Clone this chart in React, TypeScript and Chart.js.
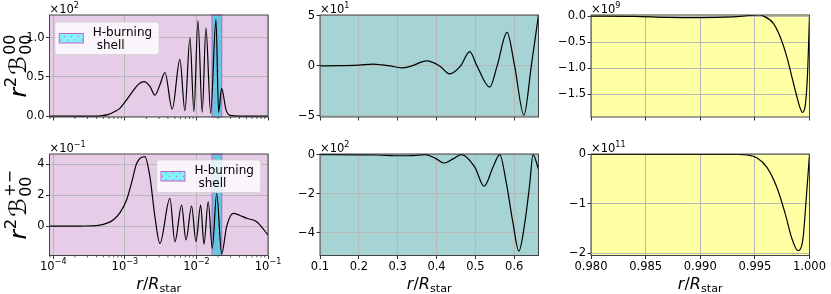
import React, { useEffect, useRef } from 'react';
import { Chart, registerables } from 'chart.js';

Chart.register(...registerables);

const W = 831;
const H = 294;
const FONT = '"DejaVu Sans", sans-serif';

// ---------------- data ----------------
const shellRange = [0.0165, 0.0226];

// top-left: r^2 B00^00 (x 1e-2 scale) vs r/R (log)
const p1R = [8e-5, 2e-4, 3.2e-4, 4.47e-4, 5.78e-4, 7.24e-4, 8.51e-4, 1.0e-3, 1.25e-3, 1.52e-3, 1.85e-3, 2.24e-3, 2.63e-3, 3.09e-3, 3.63e-3, 4.59e-3, 5.87e-3, 6.9e-3, 8.11e-3, 9.23e-3, 1.05e-2, 1.205e-2, 1.358e-2, 1.58e-2, 1.875e-2, 2.04e-2, 2.25e-2, 2.59e-2, 2.95e-2, 4.07e-2, 0.1];
const p1Y = [0, 0, 0.001, 0.005, 0.02, 0.06, 0.1, 0.18, 0.3, 0.4, 0.44, 0.38, 0.27, 0.4, 0.557, 0.09, 0.725, 0.07, 1.0, 0.06, 1.22, 0.05, 1.127, 0.04, 1.23, 0.05, 0.354, 0.08, 0.01, 0, 0];

// bottom-left: r^2 B00^{+-}
const p4R = [8e-5, 1.5e-4, 2.5e-4, 3.57e-4, 4.47e-4, 5.5e-4, 6.86e-4, 8.51e-4, 1.056e-3, 1.25e-3, 1.46e-3, 1.905e-3, 2.24e-3, 2.63e-3, 3.09e-3, 4.26e-3, 5.0e-3, 6.21e-3, 7.13e-3, 8.57e-3, 9.84e-3, 1.145e-2, 1.273e-2, 1.462e-2, 1.664e-2, 1.918e-2, 2.25e-2, 2.64e-2, 3.27e-2, 4.0e-2, 5.04e-2, 6.95e-2, 0.1];
const p4Y = [0, 0, 0.002, 0.01, 0.06, 0.17, 0.39, 0.85, 1.68, 2.85, 4.04, 4.48, 3.18, 0.6, -1.12, 1.79, -1.01, 1.35, -0.9, 1.29, -1.0, 1.35, -1.16, 1.57, -1.44, 2.1, -1.8, -0.04, 0.82, 0.7, 0.5, 0.28, -0.58];

// top-middle
const p2X = [0.1, 0.15, 0.2, 0.237, 0.26, 0.28, 0.31, 0.336, 0.374, 0.408, 0.434, 0.462, 0.4856, 0.504, 0.537, 0.556, 0.5815, 0.601, 0.625, 0.644, 0.6625];
const p2Y = [0, 0.02, 0.08, 0.17, 0.1, 0, -0.2, 0, 0.5, 0, -0.8, 0, 1.43, 0, -2.12, 0, 3.35, 0, -4.91, 0, 5.1];

// bottom-middle
const p5X = [0.1, 0.2, 0.25, 0.3, 0.34, 0.37, 0.4, 0.418, 0.4427, 0.464, 0.4985, 0.5225, 0.5455, 0.5627, 0.58, 0.597, 0.612, 0.627, 0.64, 0.6484, 0.6625];
const p5Y = [0, -0.01, -0.02, -0.06, -0.05, 0, -0.22, -0.43, -0.22, 0, -0.64, -1.62, -0.64, 0, -1.49, -3.52, -4.93, -3.52, -1.49, 0, -0.75];

// top-right
const p3X = [0.98, 0.984, 0.987, 0.99, 0.993, 0.9945, 0.9953, 0.99578, 0.99669, 0.99731, 0.99792, 0.99838, 0.99884, 0.99914, 0.99935, 0.9996, 0.99981, 1.0];
const p3Y = [0, -0.005, -0.025, -0.03, -0.015, 0.01, 0.02, 0.0, -0.14, -0.395, -0.776, -1.158, -1.54, -1.76, -1.845, -1.73, -1.158, -0.01];

// bottom-right
const p6X = [0.98, 0.99, 0.9935, 0.9943, 0.99517, 0.99609, 0.997, 0.99777, 0.99838, 0.99893, 0.99939, 0.99969, 1.0];
const p6Y = [0, 0, 0, -0.01, -0.067, -0.256, -0.66, -1.196, -1.7, -1.95, -1.73, -0.93, 0];

// ticks
const logMajorTicks = [1e-4, 1e-3, 1e-2, 1e-1];
const logMajorExps = ['\u22124', '\u22123', '\u22122', '\u22121'];
const midXTicks = [0.1, 0.2, 0.3, 0.4, 0.5, 0.6];
const midXLabels = ['0.1', '0.2', '0.3', '0.4', '0.5', '0.6'];
const rightXTicks = [0.98, 0.985, 0.99, 0.995, 1.0];
const rightXLabels = ['0.980', '0.985', '0.990', '0.995', '1.000'];
const p1YTicks = [0, 0.5, 1.0];
const p1YLabels = ['0.0', '0.5', '1.0'];
const p4YTicks = [0, 2, 4];
const p4YLabels = ['0', '2', '4'];
const p2YTicks = [-5, 0, 5];
const p2YLabels = ['\u22125', '0', '5'];
const p5YTicks = [-4, -2, 0];
const p5YLabels = ['\u22124', '\u22122', '0'];
const p3YTicks = [-1.5, -1.0, -0.5, 0];
const p3YLabels = ['\u22121.5', '\u22121.0', '\u22120.5', '0.0'];
const p6YTicks = [-2, -1, 0];
const p6YLabels = ['\u22122', '\u22121', '0'];
const offsetExps = ['2', '1', '9', '\u22121', '2', '11'];
const legendLines = ['H-burning', 'shell'];

// ---------------- layout / styles ----------------
interface Panel {
  area: [number, number, number, number];
  xs: number[];
  ys: number[];
  xLog: boolean;
  xRange: [number, number];
  yRange: [number, number];
  xTicks: number[];
  xLabels: string[] | null;
  yTicks: number[];
  yLabels: string[];
  bg: string;
  offsetExp: string;
  yLabel: 'B00' | 'Bpm' | null;
  xLabel: boolean;
  legend: [number, number] | null;
  band: boolean;
}

const BG_L = '#e6cce6';
const BG_M = '#a6d3d3';
const BG_R = '#ffffa6';

const PANELS: Panel[] = [
  { area: [49.5, 15, 268, 117], xs: p1R, ys: p1Y, xLog: true, xRange: [8.85e-5, 0.1], yRange: [-0.01, 1.29], xTicks: logMajorTicks, xLabels: null, yTicks: p1YTicks, yLabels: p1YLabels, bg: BG_L, offsetExp: offsetExps[0], yLabel: 'B00', xLabel: false, legend: [5.5, 7], band: true },
  { area: [320, 15, 538.5, 117], xs: p2X, ys: p2Y, xLog: false, xRange: [0.1, 0.6625], yRange: [-5.1, 5.08], xTicks: midXTicks, xLabels: null, yTicks: p2YTicks, yLabels: p2YLabels, bg: BG_M, offsetExp: offsetExps[1], yLabel: null, xLabel: false, legend: null, band: false },
  { area: [591, 15, 809.5, 117], xs: p3X, ys: p3Y, xLog: false, xRange: [0.98, 1.0], yRange: [-1.933, 0.02], xTicks: rightXTicks, xLabels: null, yTicks: p3YTicks, yLabels: p3YLabels, bg: BG_R, offsetExp: offsetExps[2], yLabel: null, xLabel: false, legend: null, band: false },
  { area: [49.5, 154, 268, 255.5], xs: p4R, ys: p4Y, xLog: true, xRange: [8.85e-5, 0.1], yRange: [-1.9, 4.65], xTicks: logMajorTicks, xLabels: logMajorExps, yTicks: p4YTicks, yLabels: p4YLabels, bg: BG_L, offsetExp: offsetExps[3], yLabel: 'Bpm', xLabel: true, legend: [107.2, 6], band: true },
  { area: [320, 154, 538.5, 255.5], xs: p5X, ys: p5Y, xLog: false, xRange: [0.1, 0.6625], yRange: [-5.16, 0.03], xTicks: midXTicks, xLabels: midXLabels, yTicks: p5YTicks, yLabels: p5YLabels, bg: BG_M, offsetExp: offsetExps[4], yLabel: null, xLabel: true, legend: null, band: false },
  { area: [591, 154, 809.5, 255.5], xs: p6X, ys: p6Y, xLog: false, xRange: [0.98, 1.0], yRange: [-2.05, 0.01], xTicks: rightXTicks, xLabels: rightXLabels, yTicks: p6YTicks, yLabels: p6YLabels, bg: BG_R, offsetExp: offsetExps[5], yLabel: null, xLabel: true, legend: null, band: false },
];

const Y_AXIS_W = 45;
const X_AXIS_H = 25;
const TICK_FONT = 11.5;

// ---------------- math text helper ----------------
interface Seg { t?: string; size: number; italic?: boolean; rise?: number; top?: string; bot?: string; up?: number; down?: number; gap?: number; }

function segFont(size: number, italic?: boolean) {
  return `${italic ? 'italic ' : ''}${size}px ${FONT}`;
}
function segWidth(ctx: CanvasRenderingContext2D, s: Seg) {
  if (s.top !== undefined) {
    ctx.font = segFont(s.size);
    return Math.max(ctx.measureText(s.top).width, ctx.measureText(s.bot || '').width) + (s.gap || 0);
  }
  ctx.font = segFont(s.size, s.italic);
  return ctx.measureText(s.t || '').width + (s.gap || 0);
}
function drawSegs(ctx: CanvasRenderingContext2D, segs: Seg[], x: number, y: number, align: 'left' | 'center') {
  const total = segs.reduce((a, s) => a + segWidth(ctx, s), 0);
  let cx = align === 'center' ? x - total / 2 : x;
  ctx.textAlign = 'left';
  ctx.textBaseline = 'alphabetic';
  for (const s of segs) {
    const w = segWidth(ctx, s);
    if (s.top !== undefined) {
      ctx.font = segFont(s.size);
      ctx.fillText(s.top, cx, y - (s.up || 0));
      ctx.fillText(s.bot || '', cx, y + (s.down || 0));
    } else {
      ctx.font = segFont(s.size, s.italic);
      ctx.fillText(s.t || '', cx, y - (s.rise || 0));
    }
    cx += w;
  }
}

function yLabelSegs(kind: 'B00' | 'Bpm'): Seg[] {
  const F = 23.5;
  return [
    { t: 'r', size: F, italic: true, gap: 0.5 },
    { t: '2', size: 0.7 * F, rise: 0.42 * F, gap: 2 },
    { t: '\u212C', size: F, gap: 1.5 },
    { top: kind === 'B00' ? '00' : '+\u2212', bot: '00', size: 0.68 * F, up: 0.45 * F, down: 0.22 * F },
  ];
}
function xLabelSegs(): Seg[] {
  const F = 16;
  return [
    { t: 'r', size: F, italic: true },
    { t: '/', size: F },
    { t: 'R', size: F, italic: true },
    { t: 'star', size: 0.7 * F, rise: -0.22 * F },
  ];
}

let hatchCache: CanvasPattern | null = null;
function hatch(ctx: CanvasRenderingContext2D) {
  if (hatchCache) return hatchCache;
  const c = document.createElement('canvas');
  c.width = 7; c.height = 7;
  const g = c.getContext('2d')!;
  g.fillStyle = '#cc70d4';
  g.beginPath(); g.arc(1.5, 1.5, 0.75, 0, Math.PI * 2); g.fill();
  g.beginPath(); g.arc(5, 5, 0.75, 0, Math.PI * 2); g.fill();
  hatchCache = ctx.createPattern(c, 'repeat');
  return hatchCache;
}

function decoPlugin(p: Panel) {
  return {
    id: 'deco',
    beforeDraw(chart: any) {
      const { ctx, chartArea: a } = chart;
      ctx.save();
      ctx.fillStyle = p.bg;
      ctx.fillRect(a.left, a.top, a.right - a.left, a.bottom - a.top);
      ctx.restore();
    },
    beforeDatasetsDraw(chart: any) {
      if (!p.band) return;
      const { ctx, chartArea: a, scales } = chart;
      const x0 = scales.x.getPixelForValue(shellRange[0]);
      const x1 = scales.x.getPixelForValue(shellRange[1]);
      ctx.save();
      ctx.fillStyle = '#5fcbe0';
      ctx.fillRect(x0, a.top, x1 - x0, a.bottom - a.top);
      const pat = hatch(ctx);
      if (pat) { ctx.fillStyle = pat; ctx.fillRect(x0, a.top, x1 - x0, a.bottom - a.top); }
      ctx.strokeStyle = '#c060c8';
      ctx.lineWidth = 1;
      ctx.strokeRect(x0, a.top, x1 - x0, a.bottom - a.top);
      ctx.restore();
    },
    afterDraw(chart: any) {
      const { ctx, chartArea: a, scales } = chart;
      ctx.save();
      // minor ticks on log axis
      if (p.xLog) {
        ctx.strokeStyle = '#333';
        ctx.lineWidth = 0.8;
        for (const t of scales.x.ticks) {
          if (t.major === false) {
            const px = scales.x.getPixelForValue(t.value);
            ctx.beginPath(); ctx.moveTo(px, a.bottom); ctx.lineTo(px, a.bottom + 2); ctx.stroke();
          }
        }
        if (p.xLabels) {
          ctx.fillStyle = '#000';
          logMajorTicks.forEach((v, i) => {
            const px = scales.x.getPixelForValue(v);
            drawSegs(ctx, [{ t: '10', size: TICK_FONT }, { t: p.xLabels![i], size: 0.7 * TICK_FONT, rise: 5.5 }], px, a.bottom + 14, 'center');
          });
        }
      }
      // spines
      ctx.strokeStyle = '#444';
      ctx.lineWidth = 1;
      ctx.strokeRect(a.left, a.top, a.right - a.left, a.bottom - a.top);
      // offset text
      ctx.fillStyle = '#000';
      drawSegs(ctx, [{ t: '\u00D710', size: TICK_FONT }, { t: p.offsetExp, size: 0.7 * TICK_FONT, rise: 5 }], a.left, a.top - 2.3, 'left');
      // axis labels
      if (p.xLabel) {
        drawSegs(ctx, xLabelSegs(), (a.left + a.right) / 2, 288.5, 'center');
      }
      if (p.yLabel) {
        ctx.save();
        ctx.translate(26, (a.top + a.bottom) / 2);
        ctx.rotate(-Math.PI / 2);
        drawSegs(ctx, yLabelSegs(p.yLabel), 0, 0, 'center');
        ctx.restore();
      }
      // legend
      if (p.legend) {
        const lx = a.left + p.legend[0];
        const ly = a.top + p.legend[1];
        const lw = 104, lh = 32.5;
        ctx.beginPath();
        if ((ctx as any).roundRect) (ctx as any).roundRect(lx, ly, lw, lh, 3); else ctx.rect(lx, ly, lw, lh);
        ctx.fillStyle = 'rgba(255,255,255,0.8)';
        ctx.fill();
        ctx.strokeStyle = 'rgba(204,204,204,0.8)';
        ctx.lineWidth = 0.8;
        ctx.stroke();
        const px = lx + 4.3, py = ly + 11.5, pw = 24, ph = 9.5;
        ctx.fillStyle = '#80f5fa';
        ctx.fillRect(px, py, pw, ph);
        const pat = hatch(ctx);
        if (pat) { ctx.fillStyle = pat; ctx.fillRect(px, py, pw, ph); }
        ctx.strokeStyle = '#c060c8';
        ctx.lineWidth = 1;
        ctx.strokeRect(px, py, pw, ph);
        ctx.fillStyle = '#000';
        ctx.font = `12px ${FONT}`;
        ctx.textAlign = 'left';
        ctx.textBaseline = 'alphabetic';
        ctx.fillText(legendLines[0], lx + 37.7, ly + 14);
        ctx.fillText(legendLines[1], lx + 41.7, ly + 26.5);
      }
      ctx.restore();
    },
  };
}

function buildXTicks(p: Panel) {
  if (!p.xLog) return p.xTicks.map((v) => ({ value: v }));
  const out: { value: number; major: boolean }[] = [];
  for (let e = -5; e <= -1; e++) {
    for (let k = 1; k <= 9; k++) {
      const v = k * Math.pow(10, e);
      if (v >= p.xRange[0] * 0.9999 && v <= p.xRange[1] * 1.0001) out.push({ value: v, major: k === 1 });
    }
  }
  return out;
}

function makeConfig(p: Panel): any {
  const [L, T, R, B] = p.area;
  const gridColor = (c: any) => (c.tick && c.tick.major === false ? 'rgba(0,0,0,0)' : '#b8b8b8');
  const tickColor = (c: any) => (c.tick && c.tick.major === false ? 'rgba(0,0,0,0)' : '#333');
  return {
    type: 'line',
    data: {
      datasets: [
        {
          data: p.xs.map((x, i) => ({ x, y: p.ys[i] })),
          borderColor: '#000',
          borderWidth: 1.2,
          pointRadius: 0,
          fill: false,
          cubicInterpolationMode: 'monotone',
        },
      ],
    },
    options: {
      animation: false,
      responsive: false,
      maintainAspectRatio: false,
      devicePixelRatio: 1,
      layout: { padding: { left: L - Y_AXIS_W, top: T, right: W - R, bottom: H - B - X_AXIS_H } },
      plugins: { legend: { display: false }, tooltip: { enabled: false } },
      scales: {
        x: {
          type: p.xLog ? 'logarithmic' : 'linear',
          min: p.xRange[0],
          max: p.xRange[1],
          afterFit: (s: any) => { s.height = X_AXIS_H; },
          afterBuildTicks: (s: any) => { s.ticks = buildXTicks(p); },
          ticks: {
            autoSkip: false, maxRotation: 0, minRotation: 0, padding: 1, color: '#000',
            font: { family: FONT, size: TICK_FONT },
            callback: (_v: any, i: number) => (p.xLabels && !p.xLog ? p.xLabels[i] : ''),
          },
          grid: { color: gridColor, tickColor, lineWidth: 1, tickWidth: 1, tickLength: 3.5, drawTicks: true },
          border: { display: false },
        },
        y: {
          type: 'linear',
          min: p.yRange[0],
          max: p.yRange[1],
          afterFit: (s: any) => { s.width = Y_AXIS_W; },
          afterBuildTicks: (s: any) => { s.ticks = p.yTicks.map((v) => ({ value: v })); },
          ticks: {
            autoSkip: false, padding: 1.5, color: '#000',
            font: { family: FONT, size: TICK_FONT },
            callback: (_v: any, i: number) => p.yLabels[i],
          },
          grid: { color: '#b8b8b8', tickColor: '#333', lineWidth: 1, tickWidth: 1, tickLength: 3.5, drawTicks: true },
          border: { display: false },
        },
      },
    },
    plugins: [decoPlugin(p)],
  };
}

export default function App() {
  const refs = useRef<(HTMLCanvasElement | null)[]>([]);
  useEffect(() => {
    document.body.style.margin = '0';
    const charts = PANELS.map((p, i) => new Chart(refs.current[i] as HTMLCanvasElement, makeConfig(p)));
    return () => charts.forEach((c) => c.destroy());
  }, []);
  return (
    <div style={{ position: 'relative', width: W, height: H, background: '#fff', overflow: 'hidden' }}>
      {PANELS.map((_p, i) => (
        <canvas
          key={i}
          ref={(el) => { refs.current[i] = el; }}
          width={W}
          height={H}
          style={{ position: 'absolute', left: 0, top: 0, width: W, height: H }}
        />
      ))}
    </div>
  );
}
